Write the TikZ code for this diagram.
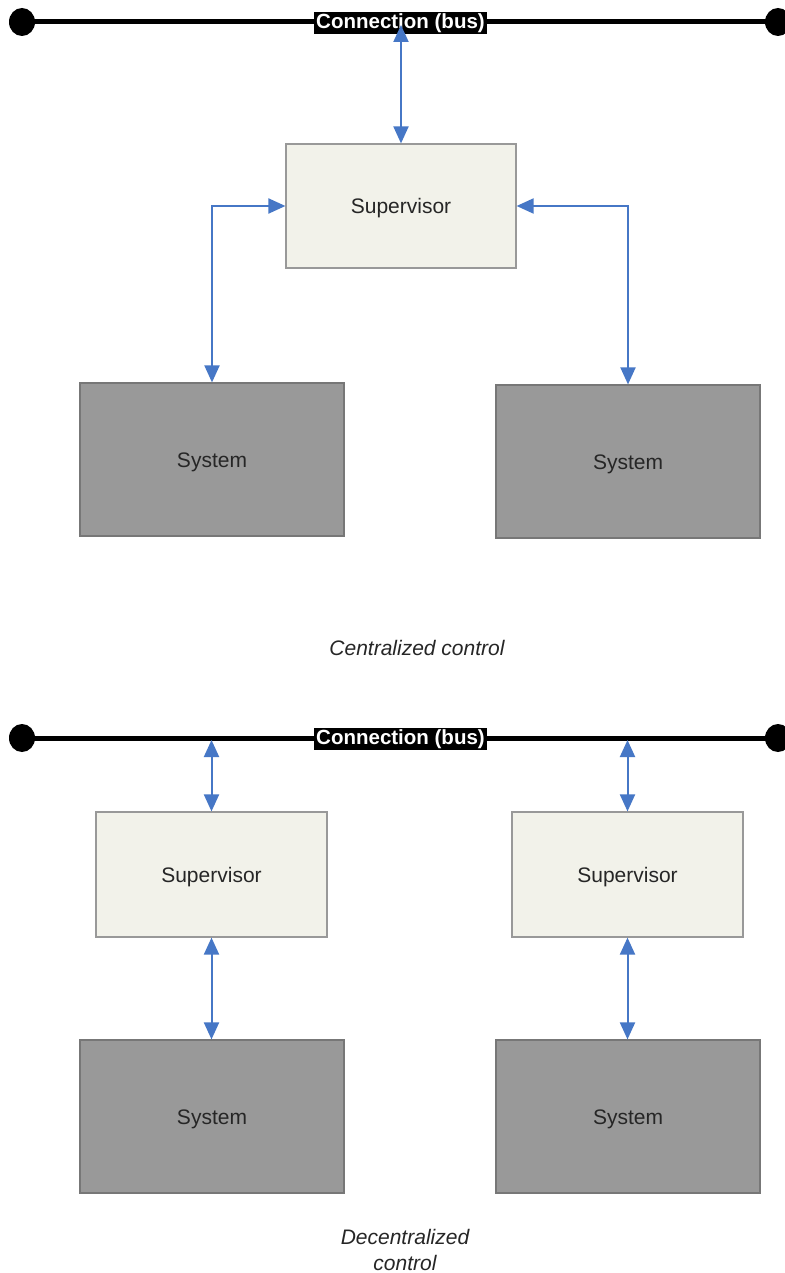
\documentclass[tikz,border=0pt]{standalone}
\usepackage{fontspec}
\setmainfont{Liberation Sans}
\usetikzlibrary{arrows.meta,shapes.geometric}
\definecolor{arrowblue}{HTML}{4677C6}
\definecolor{supfill}{HTML}{F2F2EA}
\definecolor{supdraw}{HTML}{999999}
\definecolor{sysfill}{HTML}{999999}
\definecolor{sysdraw}{HTML}{777777}
\tikzset{
  supbox/.style={draw=supdraw, fill=supfill, line width=1.2pt, inner sep=0pt,
    minimum width=230pt, minimum height=124pt, text=black!85,
    text height=15pt, text depth=0pt,
    font=\fontsize{21}{25}\selectfont},
  sysbox/.style={draw=sysdraw, fill=sysfill, line width=1.2pt, inner sep=0pt,
    minimum width=264pt, minimum height=153pt, text=black!85,
    text height=15pt, text depth=0pt,
    font=\fontsize{21}{25}\selectfont},
  busline/.style={line width=5pt, black},
  busdot/.style={fill=black, ellipse, minimum width=26pt, minimum height=28pt, inner sep=0pt},
  buslabel/.style={fill=black, text=white, inner xsep=2pt, inner ysep=0pt,
    minimum height=22pt, font=\fontsize{20.5}{22}\selectfont\bfseries},
  link/.style={draw=arrowblue, line width=2pt,
    {Triangle[width=15pt,length=17pt]}-{Triangle[width=15pt,length=17pt]}},
  caption/.style={font=\fontsize{21}{26}\selectfont\itshape, text=black!85, align=center}
}
\begin{document}
\begin{tikzpicture}[x=1pt,y=-1pt]
\useasboundingbox (0,0) rectangle (784,1273);
\fill[white] (0,0) rectangle (784,1273);

% ---------- Centralized ----------
\coordinate (busL1) at (22,22);
\coordinate (busR1) at (778,22);
\draw[busline] (busL1) -- (busR1);
\node[busdot] (dotL1) at (busL1) {};
\node[busdot] (dotR1) at (busR1) {};
\node[buslabel] (lab1) at (400.5,23) {Connection (bus)};

\node[supbox] (sup1) at (401,206) {Supervisor};
\node[sysbox] (sys1) at (212,459.5) {System};
\node[sysbox] (sys2) at (628,461.5) {System};

\coordinate (b1) at (401,25);
\draw[link] (b1) -- (sup1.north);
\draw[link] (sup1.west) -| (sys1.north);
\draw[link] (sup1.east) -| (sys2.north);

\node[caption] (cap1) at (417,648) {Centralized control};

% ---------- Decentralized ----------
\coordinate (busL2) at (22,738);
\coordinate (busR2) at (778,738);
\draw[busline] (busL2) -- (busR2);
\node[busdot] (dotL2) at (busL2) {};
\node[busdot] (dotR2) at (busR2) {};
\node[buslabel] (lab2) at (400.5,739) {Connection (bus)};

\node[supbox, minimum width=231pt, minimum height=125pt] (sup2) at (211.5,874.5) {Supervisor};
\node[supbox, minimum width=231pt, minimum height=125pt] (sup3) at (627.5,874.5) {Supervisor};
\node[sysbox] (sys3) at (212,1116.5) {System};
\node[sysbox] (sys4) at (628,1116.5) {System};

\coordinate (b2) at (211.5,740);
\coordinate (b3) at (627.5,740);
\draw[link] (b2) -- (sup2.north);
\draw[link] (b3) -- (sup3.north);
\draw[link] (sup2.south) -- (sup2.south |- sys3.north);
\draw[link] (sup3.south) -- (sup3.south |- sys4.north);

\node[caption] (cap2) at (405,1250) {Decentralized\\control};
\end{tikzpicture}
\end{document}
